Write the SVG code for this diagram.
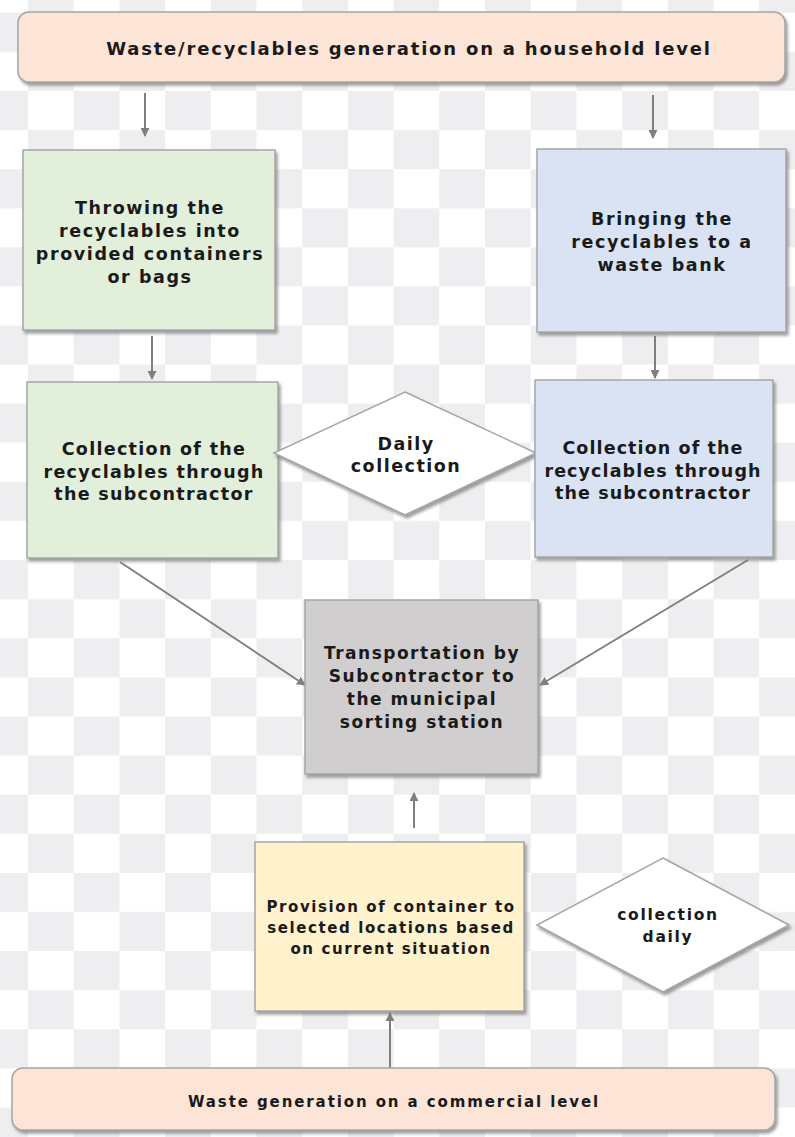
<svg xmlns="http://www.w3.org/2000/svg" width="795" height="1137" viewBox="0 0 795 1137">
<style>
.t{font-family:"DejaVu Sans","Liberation Sans",sans-serif;font-weight:bold;fill:#1a1a1a;text-anchor:middle}
.box{stroke:#a6a6a6;stroke-width:1.5}
.con{stroke:#7f7f7f;stroke-width:2;fill:none}
</style>
<defs>
<pattern id="chk" x="-17.7" y="12.7" width="91.4" height="78.2" patternUnits="userSpaceOnUse">
<rect width="45.7" height="39.1" fill="#eeeef1"/>
<rect x="45.7" y="39.1" width="45.7" height="39.1" fill="#eeeef1"/>
</pattern>
<filter id="sh" x="-10%" y="-10%" width="120%" height="125%">
<feDropShadow dx="2" dy="3" stdDeviation="1.5" flood-color="#777" flood-opacity="0.7"/>
</filter>
<marker id="ah" viewBox="0 0 10 10" refX="9" refY="5" markerWidth="9" markerHeight="9" markerUnits="userSpaceOnUse" orient="auto">
<path d="M0,0 L10,5 L0,10 z" fill="#7f7f7f"/>
</marker>
</defs>
<rect width="795" height="1137" fill="#ffffff"/>
<rect width="795" height="1137" fill="url(#chk)"/>

<g id="connectors">
<line class="con" x1="145" y1="93" x2="145" y2="136" marker-end="url(#ah)"/>
<line class="con" x1="653" y1="95" x2="653" y2="138" marker-end="url(#ah)"/>
<line class="con" x1="152" y1="336" x2="152" y2="379" marker-end="url(#ah)"/>
<line class="con" x1="655" y1="336" x2="655" y2="378" marker-end="url(#ah)"/>
<line class="con" x1="120" y1="562" x2="305" y2="685" marker-end="url(#ah)"/>
<line class="con" x1="748" y1="560" x2="540" y2="685" marker-end="url(#ah)"/>
<line class="con" x1="414" y1="828" x2="414" y2="793" marker-end="url(#ah)"/>
<line class="con" x1="390" y1="1068" x2="390" y2="1013" marker-end="url(#ah)"/>
</g>

<g id="household">
<rect class="box" x="18" y="12" width="767" height="70" rx="11" fill="#fce4d6" filter="url(#sh)"/>
<text class="t" x="409" y="55" font-size="18" letter-spacing="1.8">Waste/recyclables  generation on a household level</text>
</g>

<g id="throwing">
<rect class="box" x="23" y="150" width="252" height="180" fill="#e2efda" filter="url(#sh)"/>
<text class="t" font-size="17.5" letter-spacing="1.6"><tspan x="150" y="214">Throwing the</tspan><tspan x="150" y="237">recyclables into</tspan><tspan x="150" y="260">provided containers</tspan><tspan x="150" y="283">or bags</tspan></text>
</g>

<g id="bringing">
<rect class="box" x="537" y="149" width="249" height="183" fill="#dae3f3" filter="url(#sh)"/>
<text class="t" font-size="17.5" letter-spacing="1.6"><tspan x="662" y="225">Bringing the</tspan><tspan x="662" y="248">recyclables to a</tspan><tspan x="662" y="271">waste bank</tspan></text>
</g>

<g id="collection-left">
<rect class="box" x="27" y="382" width="251" height="176" fill="#e2efda" filter="url(#sh)"/>
<text class="t" font-size="17.5" letter-spacing="1.3"><tspan x="154" y="455">Collection of the</tspan><tspan x="154" y="478">recyclables through</tspan><tspan x="154" y="500">the subcontractor</tspan></text>
</g>

<g id="daily-collection">
<polygon class="box" points="405,392 536,453 405,515 274,453" fill="#ffffff" filter="url(#sh)"/>
<text class="t" font-size="17.5" letter-spacing="1.5"><tspan x="406" y="450">Daily</tspan><tspan x="406" y="472">collection</tspan></text>
</g>

<g id="collection-right">
<rect class="box" x="535" y="380" width="238" height="177" fill="#dae3f3" filter="url(#sh)"/>
<text class="t" font-size="17.5" letter-spacing="1.1"><tspan x="653" y="454">Collection of the</tspan><tspan x="653" y="477">recyclables through</tspan><tspan x="653" y="499">the subcontractor</tspan></text>
</g>

<g id="transportation">
<rect class="box" x="305" y="600" width="233" height="174" fill="#d0cece" filter="url(#sh)"/>
<text class="t" font-size="17" letter-spacing="1.5"><tspan x="422" y="659">Transportation by</tspan><tspan x="422" y="682">Subcontractor to</tspan><tspan x="422" y="705">the municipal</tspan><tspan x="422" y="728">sorting station</tspan></text>
</g>

<g id="provision">
<rect class="box" x="255" y="842" width="269" height="169" fill="#fff2cc" filter="url(#sh)"/>
<text class="t" font-size="15" letter-spacing="1.6"><tspan x="391" y="912">Provision of container to</tspan><tspan x="391" y="933">selected locations based</tspan><tspan x="391" y="954">on current situation</tspan></text>
</g>

<g id="collection-daily">
<polygon class="box" points="663,858 789,925 663,992 537,925" fill="#ffffff" filter="url(#sh)"/>
<text class="t" font-size="15.5" letter-spacing="1.7"><tspan x="668" y="920">collection</tspan><tspan x="668" y="942">daily</tspan></text>
</g>

<g id="commercial">
<rect class="box" x="12" y="1068" width="763" height="62" rx="11" fill="#fce4d6" filter="url(#sh)"/>
<text class="t" x="394" y="1107" font-size="15" letter-spacing="1.9">Waste generation on a commercial level</text>
</g>
</svg>
